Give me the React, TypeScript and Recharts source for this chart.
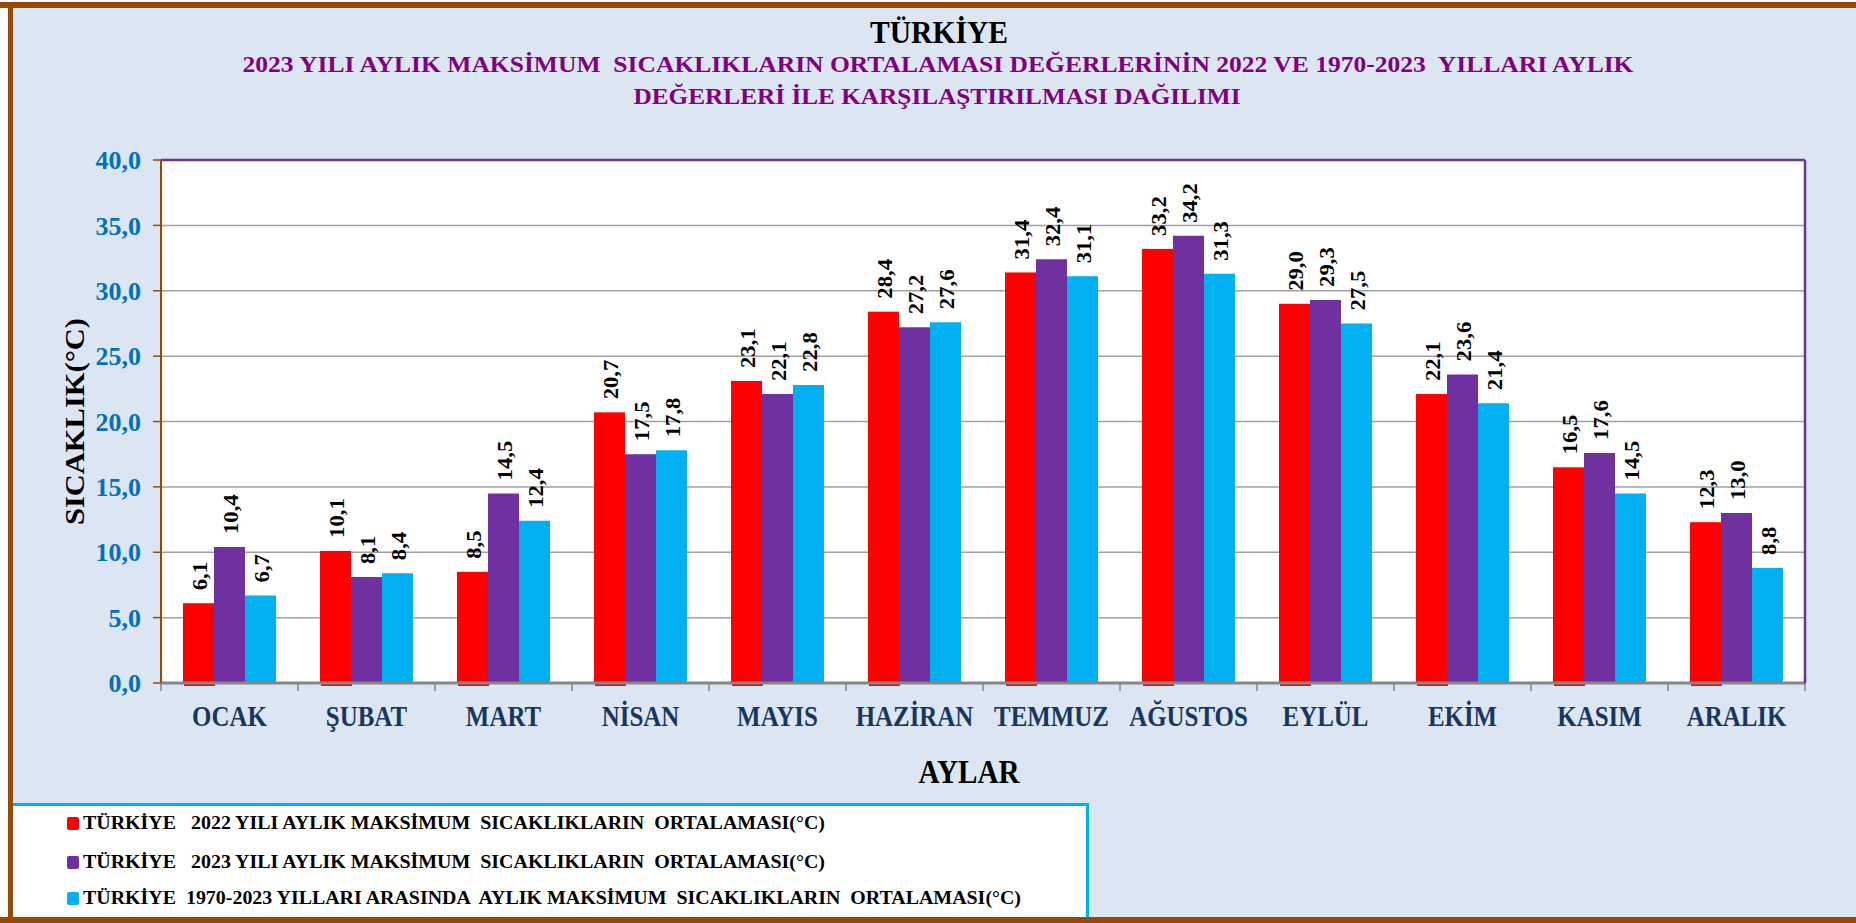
import React from "react";
import { BarChart, Bar, XAxis, YAxis, CartesianGrid, ReferenceLine, LabelList } from "recharts";

const months = ["OCAK", "ŞUBAT", "MART", "NİSAN", "MAYIS", "HAZİRAN", "TEMMUZ", "AĞUSTOS", "EYLÜL", "EKİM", "KASIM", "ARALIK"];
const max2022 = [6.1, 10.1, 8.5, 20.7, 23.1, 28.4, 31.4, 33.2, 29.0, 22.1, 16.5, 12.3];
const max2023 = [10.4, 8.1, 14.5, 17.5, 22.1, 27.2, 32.4, 34.2, 29.3, 23.6, 17.6, 13.0];
const maxLongTerm = [6.7, 8.4, 12.4, 17.8, 22.8, 27.6, 31.1, 31.3, 27.5, 21.4, 14.5, 8.8];
const yTicks = [0, 5, 10, 15, 20, 25, 30, 35, 40];

const seriesNames = [
  "TÜRKİYE   2022 YILI AYLIK MAKSİMUM  SICAKLIKLARIN  ORTALAMASI(°C)",
  "TÜRKİYE   2023 YILI AYLIK MAKSİMUM  SICAKLIKLARIN  ORTALAMASI(°C)",
  "TÜRKİYE  1970-2023 YILLARI ARASINDA  AYLIK MAKSİMUM  SICAKLIKLARIN  ORTALAMASI(°C)",
];

const title = "TÜRKİYE";
const subtitle1 = "2023 YILI AYLIK MAKSİMUM  SICAKLIKLARIN ORTALAMASI DEĞERLERİNİN 2022 VE 1970-2023  YILLARI AYLIK";
const subtitle2 = "DEĞERLERİ İLE KARŞILAŞTIRILMASI DAĞILIMI";

const data = months.map((m, i) => ({
  month: m,
  y2022: max2022[i],
  y2023: max2023[i],
  longTerm: maxLongTerm[i],
}));

const FONT = "'Liberation Serif', 'Times New Roman', serif";
const RED = "#ff0000";
const PURPLE = "#7030a0";
const CYAN = "#00b0f0";
const BROWN = "#984807";

const fmt = (v: number) => Number(v).toFixed(1).replace(".", ",");

const BarLabel = (props: any) => {
  const { x, y, width, value } = props;
  const cx = Number(x) + Number(width) / 2;
  return (
    <text
      transform={`translate(${cx + 8},${Number(y) - 13}) rotate(-90) scale(1.08,1)`}
      textAnchor="start"
      fontFamily={FONT}
      fontWeight="bold"
      fontSize={21}
      fill="#000"
    >
      {fmt(value)}
    </text>
  );
};

const MonthTick = (props: any) => {
  const { x, y, payload, index } = props;
  const off = payload && payload.offset ? payload.offset : 68.5;
  return (
    <g>
      <line x1={x - off} x2={x - off} y1={y} y2={y + 8} stroke="#868686" strokeWidth={1.5} />
      {index === months.length - 1 && (
        <line x1={x + off} x2={x + off} y1={y} y2={y + 8} stroke="#868686" strokeWidth={1.5} />
      )}
      <text
        transform={`translate(${x},${y + 43}) scale(0.86,1)`}
        textAnchor="middle"
        fontFamily={FONT}
        fontWeight="bold"
        fontSize={29}
        fill="#17375e"
      >
        {payload.value}
      </text>
    </g>
  );
};

const RedBar = (p: any) => (
  <g>
    <rect x={p.x} y={p.y} width={p.width} height={p.height} fill={p.fill} />
    <rect x={p.x + 1} y={p.y + p.height} width={p.width} height={3} fill={p.fill} />
  </g>
);

export default function App() {
  const legendRows = [
    { color: RED, text: seriesNames[0], len: 742, y: 829 },
    { color: PURPLE, text: seriesNames[1], len: 742, y: 868 },
    { color: CYAN, text: seriesNames[2], len: 938, y: 904 },
  ];

  return (
    <div style={{ position: "relative", width: 1856, height: 923, background: "#fff", overflow: "hidden" }}>
      <style>{`body{margin:0}`}</style>
      <div style={{ position: "absolute", left: 13, top: 7, width: 1843, height: 910, background: "#dce6f2" }} />
      <div style={{ position: "absolute", left: 0, top: 0 }}>
        <BarChart
          width={1856}
          height={923}
          data={data}
          margin={{ top: 160, right: 49, bottom: 180, left: 0 }}
          barGap={0}
        >
          <CartesianGrid yAxisId="left" vertical={false} fill="#ffffff" stroke="#a0a0a0" strokeWidth={1.5} />
          <XAxis
            dataKey="month"
            height={60}
            interval={0}
            tickLine={false}
            tickSize={0}
            tickMargin={0}
            axisLine={{ stroke: "#868686", strokeWidth: 3 }}
            tick={<MonthTick />}
          />
          <YAxis
            yAxisId="left"
            width={161}
            domain={[0, 40]}
            ticks={yTicks}
            tickFormatter={fmt}
            tickSize={8}
            tickMargin={12}
            tickLine={{ stroke: BROWN, strokeWidth: 1.5 }}
            axisLine={{ stroke: BROWN, strokeWidth: 2 }}
            tick={{ fill: "#0070c0", fontSize: 26, fontWeight: "bold", fontFamily: FONT }}
          />
          <YAxis
            yAxisId="right"
            orientation="right"
            width={2}
            domain={[0, 40]}
            ticks={yTicks}
            tick={false}
            tickLine={false}
            axisLine={{ stroke: PURPLE, strokeWidth: 2.5 }}
          />
          <ReferenceLine yAxisId="left" y={40} stroke={PURPLE} strokeWidth={2.5} />
          <Bar yAxisId="left" dataKey="y2022" name={seriesNames[0]} fill={RED} barSize={31} shape={RedBar} isAnimationActive={false}>
            <LabelList dataKey="y2022" content={<BarLabel />} />
          </Bar>
          <Bar yAxisId="left" dataKey="y2023" name={seriesNames[1]} fill={PURPLE} barSize={31} isAnimationActive={false}>
            <LabelList dataKey="y2023" content={<BarLabel />} />
          </Bar>
          <Bar yAxisId="left" dataKey="longTerm" name={seriesNames[2]} fill={CYAN} barSize={31} isAnimationActive={false}>
            <LabelList dataKey="longTerm" content={<BarLabel />} />
          </Bar>
        </BarChart>
      </div>
      <svg width={1856} height={923} style={{ position: "absolute", left: 0, top: 0, pointerEvents: "none" }}>
        <rect x={0} y={2} width={1856} height={6} fill={BROWN} />
        <rect x={8} y={2} width={5} height={921} fill={BROWN} />
        <text x={939} y={43} textAnchor="middle" fontFamily={FONT} fontWeight="bold" fontSize={32} textLength={138} lengthAdjust="spacingAndGlyphs" fill="#000">
          {title}
        </text>
        <text x={938} y={72} textAnchor="middle" fontFamily={FONT} fontWeight="bold" fontSize={23} textLength={1391} lengthAdjust="spacingAndGlyphs" fill="#800080" style={{ whiteSpace: "pre" }}>
          {subtitle1}
        </text>
        <text x={937} y={104} textAnchor="middle" fontFamily={FONT} fontWeight="bold" fontSize={23} textLength={607} lengthAdjust="spacingAndGlyphs" fill="#800080">
          {subtitle2}
        </text>
        <text transform="translate(84,421.5) rotate(-90)" textAnchor="middle" fontFamily={FONT} fontWeight="bold" fontSize={28} textLength={207} lengthAdjust="spacingAndGlyphs" fill="#000">
          SICAKLIK(°C)
        </text>
        <text x={969} y={783} textAnchor="middle" fontFamily={FONT} fontWeight="bold" fontSize={34} textLength={101} lengthAdjust="spacingAndGlyphs" fill="#000">
          AYLAR
        </text>
        <rect x={13} y={803} width={1075} height={114} fill="#fff" />
        <rect x={13} y={803} width={1076} height={3} fill={CYAN} />
        <rect x={1086} y={803} width={3} height={114} fill={CYAN} />
        {legendRows.map((r) => (
          <g key={r.text}>
            <rect x={67} y={r.y - 12} width={12} height={13} rx={2} fill={r.color} />
            <text x={83} y={r.y} fontFamily={FONT} fontWeight="bold" fontSize={19} textLength={r.len} lengthAdjust="spacingAndGlyphs" fill="#000" style={{ whiteSpace: "pre" }}>
              {r.text}
            </text>
          </g>
        ))}
        <rect x={0} y={917} width={1856} height={6} fill={BROWN} />
      </svg>
    </div>
  );
}
